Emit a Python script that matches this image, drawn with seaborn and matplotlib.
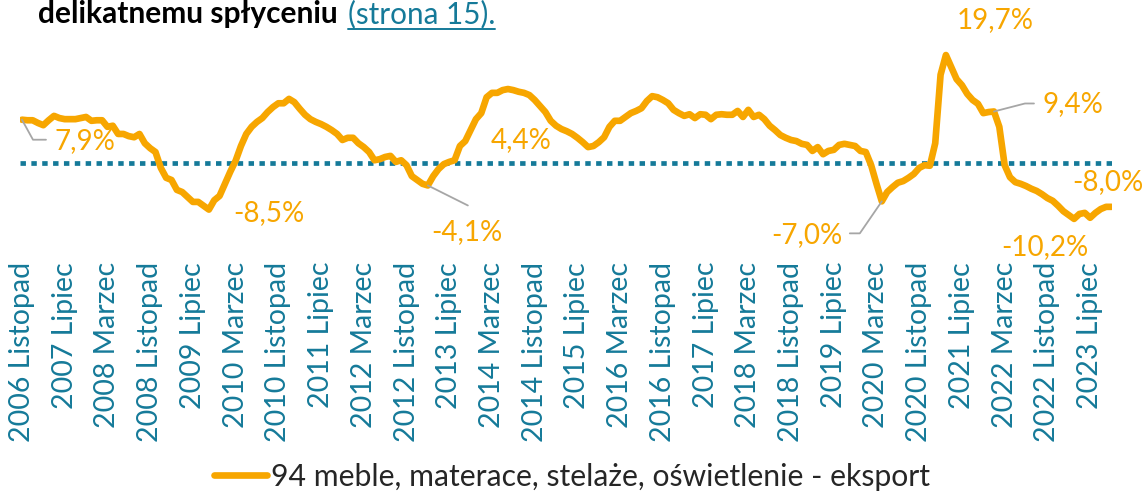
import matplotlib
matplotlib.use("Agg")
import pandas as pd
import matplotlib.pyplot as plt
import matplotlib.transforms as mtransforms
from matplotlib.lines import Line2D
import seaborn as sns

# monthly values (%), first month = Nov 2006
values = [
    7.9, 7.8, 7.8, 7.3, 6.9, 7.8, 8.6, 8.2, 8.0, 8.0,
    8.0, 8.2, 8.4, 7.7, 7.8, 7.8, 6.6, 6.8, 5.3, 5.3,
    4.9, 4.7, 5.3, 3.6, 2.7, 2.0, -0.9, -2.7, -3.1, -4.9,
    -5.3, -6.2, -7.1, -7.1, -7.8, -8.5, -6.8, -6.0, -3.8, -1.6,
    0.4, 3.1, 5.3, 6.6, 7.5, 8.2, 9.3, 10.2, 10.9, 10.9,
    11.7, 11.1, 9.9, 8.8, 8.0, 7.5, 7.1, 6.6, 6.0, 5.3,
    4.2, 4.6, 4.6, 3.6, 2.9, 2.0, 0.5, 0.7, 1.1, 1.3,
    0.2, 0.5, -0.4, -2.4, -3.1, -3.8, -4.1, -2.4, -1.1, -0.2,
    0.2, 0.5, 3.1, 4.0, 6.0, 8.0, 9.1, 12.0, 12.8, 12.8,
    13.3, 13.5, 13.3, 13.0, 12.8, 12.4, 11.5, 10.4, 9.3, 7.7,
    6.8, 6.2, 5.8, 5.3, 4.6, 3.8, 2.9, 3.1, 3.8, 4.7,
    6.6, 7.7, 7.7, 8.4, 9.1, 9.5, 10.0, 11.3, 12.2, 12.0,
    11.5, 10.9, 9.7, 9.1, 8.6, 8.9, 8.2, 8.9, 8.8, 8.0,
    8.8, 8.9, 8.8, 8.8, 9.5, 8.4, 9.7, 8.4, 8.8, 8.0,
    6.8, 6.0, 5.1, 4.6, 4.2, 4.0, 3.5, 3.3, 2.2, 2.9,
    1.6, 2.2, 2.4, 3.3, 3.5, 3.3, 3.1, 2.2, 2.0, -0.4,
    -3.8, -7.0, -5.3, -4.4, -3.6, -3.3, -2.7, -2.0, -0.9, -0.4,
    -0.5, 3.6, 16.1, 19.7, 17.5, 15.3, 14.2, 12.6, 11.5, 10.8,
    9.1, 9.3, 9.4, 6.6, -0.4, -2.6, -3.5, -3.8, -4.2, -4.7,
    -5.1, -5.7, -6.4, -6.9, -7.8, -8.8, -9.5, -10.2, -9.3, -9.1,
    -10.0, -9.1, -8.4, -8.0, -8.0,
]
month_names = ["Styczeń", "Luty", "Marzec", "Kwiecień", "Maj", "Czerwiec",
               "Lipiec", "Sierpień", "Wrzesień", "Październik", "Listopad", "Grudzień"]
series_name = "94 meble, materace, stelaże, oświetlenie - eksport"
title_bold = "delikatnemu spłyceniu"
title_link = "(strona 15)."
extra_label = "4,4%"

ORANGE = "#F7A600"
TEAL = "#157A99"
GREY = "#A6A6A6"

months = pd.period_range("2006-11", periods=len(values), freq="M")
df = pd.DataFrame({
    "idx": range(len(values)),
    "value": values,
    "miesiac": [f"{p.year} {month_names[p.month - 1]}" for p in months],
})

sns.set_style("white")
plt.rcParams["font.family"] = ["Lato", "DejaVu Sans"]

W, H = 1147, 492
fig = plt.figure(figsize=(W / 100, H / 100), dpi=100)
ax = fig.add_axes([20 / W, 1 - 250 / H, (1112 - 20) / W, (250 - 30) / H])

sns.lineplot(data=df, x="idx", y="value", color=ORANGE, lw=4.8, ax=ax,
             solid_joinstyle="round", solid_capstyle="round", zorder=3)
ax.axhline(0, color=TEAL, lw=3.4, linestyle=(0, (1.15, 1.15)), zorder=2)

ax.set_xlim(-0.37, 204.1)
ax.set_ylim((163 - 250) / 5.48, (163 - 30) / 5.48)
ax.set_yticks([])
ticks = df.iloc[::8]
ax.set_xticks(ticks["idx"])
ax.set_xticklabels(ticks["miesiac"], rotation=90, color=TEAL, fontsize=20.5)
ax.tick_params(axis="x", length=0, pad=8.6)
ax.set_xlabel("")
ax.set_ylabel("")
sns.despine(ax=ax, left=True, bottom=True)


def pct(v):
    return f"{v:.1f}".replace(".", ",") + "%"


LBL = 20
# (index, text offset px, alignment, leader polyline px)
labels = [
    (0, (33, -21), "left", [(0, 0), (11, -20), (24, -20)]),
    (35, (24, -3), "left", None),
    (76, (39, -47), "center", [(0, 0), (40, -20)]),
    (161, (-39, -34), "right", [(0, 0), (-22, -32), (-32, -32)]),
    (173, (11, 35), "left", None),
    (182, (49, 7), "left", [(0, 0), (31, 8), (40, 8)]),
    (197, (-29, -28), "center", None),
    (204, (32, 25), "right", None),
]
for i, (dx, dy), ha, leader in labels:
    px, py = ax.transData.transform((i, values[i]))
    tr = mtransforms.Affine2D().translate(px, py)
    if leader:
        xs, ys = zip(*leader)
        fig.add_artist(Line2D(xs, ys, color=GREY, lw=1.3, transform=tr))
    fig.text(px + dx, py + dy, pct(values[i]), transform=mtransforms.IdentityTransform(),
             ha=ha, va="center", color=ORANGE, fontsize=LBL)

fig.text(521 / W, 1 - 140 / H, extra_label, ha="center", va="center", color=ORANGE, fontsize=LBL)

# title fragment at the top
t1 = fig.text(38 / W, 1 - 23 / H, title_bold, fontweight="bold", fontsize=21.5,
              color="black", va="baseline")
fig.canvas.draw()
bb = t1.get_window_extent()
t2 = fig.text((bb.x1 + 10) / W, 1 - 23 / H, title_link, fontsize=21.3, color=TEAL, va="baseline")
fig.canvas.draw()
bb2 = t2.get_window_extent()
fig.add_artist(Line2D([bb2.x0, bb2.x1], [H - 29, H - 29], color=TEAL, lw=1.4,
                      transform=mtransforms.IdentityTransform()))

handle = Line2D([], [], color=ORANGE, lw=4.8)
fig.legend([handle], [series_name], loc="center", bbox_to_anchor=(572 / W, 1 - 477 / H),
           frameon=False, fontsize=21.7, handlelength=1.75, handletextpad=0.15)

fig.savefig("out.png", dpi=100)
